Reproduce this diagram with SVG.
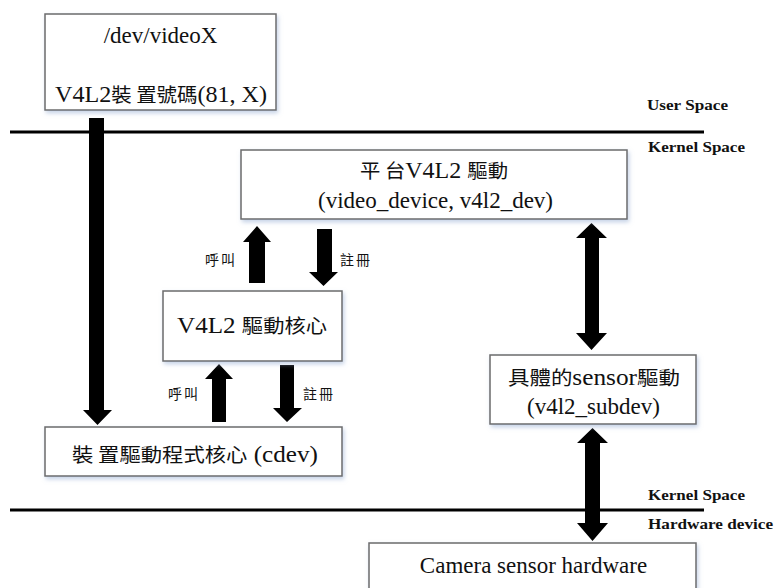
<svg xmlns="http://www.w3.org/2000/svg" width="776" height="588" viewBox="0 0 776 588">
  <defs>
    <filter id="shadow" x="-10%" y="-10%" width="130%" height="140%">
      <feDropShadow dx="1.5" dy="2.5" stdDeviation="2" flood-color="#9fb4d6" flood-opacity="0.6"/>
    </filter>
    <style>
      .box { fill: #fff; stroke: #6b6b6b; stroke-width: 1.5; filter: url(#shadow); }
      text { font-family: 'Liberation Serif', serif; fill: #111; }
      .txt { font-size: 23px; text-anchor: middle; }
      .cjk { font-family: 'Noto Sans CJK TC', 'Noto Sans CJK SC', sans-serif; font-size: 19.5px; }
      .small { font-family: 'Noto Sans CJK TC', 'Noto Sans CJK SC', sans-serif; font-size: 14px; letter-spacing: 2px; }
      .zone { font-size: 15px; font-weight: bold; }
      .sep { stroke: #000; stroke-width: 3; }
      .arrow { fill: #000; }
    </style>
  </defs>

  <rect width="776" height="588" fill="#fff"/>

  <!-- space boundaries -->
  <g id="boundaries">
    <line class="sep" x1="10" y1="132" x2="704" y2="132"/>
    <line class="sep" x1="10" y1="510" x2="704" y2="510"/>
    <text class="zone" x="647" y="110" textLength="81" lengthAdjust="spacingAndGlyphs">User Space</text>
    <text class="zone" x="648" y="152" textLength="97" lengthAdjust="spacingAndGlyphs">Kernel Space</text>
    <text class="zone" x="648" y="500" textLength="97" lengthAdjust="spacingAndGlyphs">Kernel Space</text>
    <text class="zone" x="648" y="529" textLength="125" lengthAdjust="spacingAndGlyphs">Hardware device</text>
  </g>

  <!-- connectors -->
  <g id="connectors">
    <!-- device node down to cdev core -->
    <polygon class="arrow" points="89,118 104,118 104,410 112,410 97.5,425 83,410 89,410"/>
    <!-- core -> platform: call -->
    <polygon class="arrow" points="249,283 265,283 265,242 271,242 257,226 243,242 249,242"/>
    <!-- platform -> core: register -->
    <polygon class="arrow" points="317,229 332,229 332,272 338,272 323.5,286 309,272 317,272"/>
    <!-- cdev -> core: call -->
    <polygon class="arrow" points="212,422 226,422 226,379 233,379 219,364 205,379 212,379"/>
    <!-- core -> cdev: register -->
    <polygon class="arrow" points="280,365 294,365 294,408 302,408 287,422 273,408 280,408"/>
    <!-- platform <-> sensor driver -->
    <polygon class="arrow" points="591.5,223 607,238 599,238 599,333 607,333 591.5,350 576,333 585,333 585,238 576,238"/>
    <!-- sensor driver <-> hardware -->
    <polygon class="arrow" points="592.5,428 608,443 600,443 600,523 608,523 592.5,541 577,523 585,523 585,443 577,443"/>
    <text class="small" x="205" y="265">呼叫</text>
    <text class="small" x="340" y="265">註冊</text>
    <text class="small" x="168" y="399">呼叫</text>
    <text class="small" x="303" y="399">註冊</text>
  </g>

  <g id="dev-node">
    <rect class="box" x="45" y="14" width="231" height="96"/>
    <text class="txt" x="160.5" y="43">/dev/videoX</text>
    <text class="txt" x="161" y="102" textLength="212" lengthAdjust="spacingAndGlyphs">V4L2<tspan class="cjk">裝 置號碼</tspan>(81, X)</text>
  </g>

  <g id="platform-driver">
    <rect class="box" x="241" y="150" width="386" height="69"/>
    <text class="txt" x="434" y="178" textLength="148" lengthAdjust="spacingAndGlyphs"><tspan class="cjk">平 台</tspan>V4L2 <tspan class="cjk">驅動</tspan></text>
    <text class="txt" x="435.5" y="208">(video_device, v4l2_dev)</text>
  </g>

  <g id="v4l2-core">
    <rect class="box" x="163" y="291" width="179" height="70"/>
    <text class="txt" x="252" y="333" textLength="150" lengthAdjust="spacingAndGlyphs">V4L2 <tspan class="cjk">驅動核心</tspan></text>
  </g>

  <g id="cdev-core">
    <rect class="box" x="45" y="427" width="297" height="49"/>
    <text class="txt" x="195" y="462" textLength="246" lengthAdjust="spacingAndGlyphs"><tspan class="cjk">裝 置驅動程式核心</tspan> (cdev)</text>
  </g>

  <g id="sensor-driver">
    <rect class="box" x="490" y="355" width="206" height="69"/>
    <text class="txt" x="594" y="385" textLength="172" lengthAdjust="spacingAndGlyphs"><tspan class="cjk">具體的</tspan>sensor<tspan class="cjk">驅動</tspan></text>
    <text class="txt" x="593.5" y="414">(v4l2_subdev)</text>
  </g>

  <g id="camera-hw">
    <rect class="box" x="369" y="543" width="327" height="60"/>
    <text class="txt" x="533.5" y="573">Camera sensor hardware</text>
  </g>
</svg>
